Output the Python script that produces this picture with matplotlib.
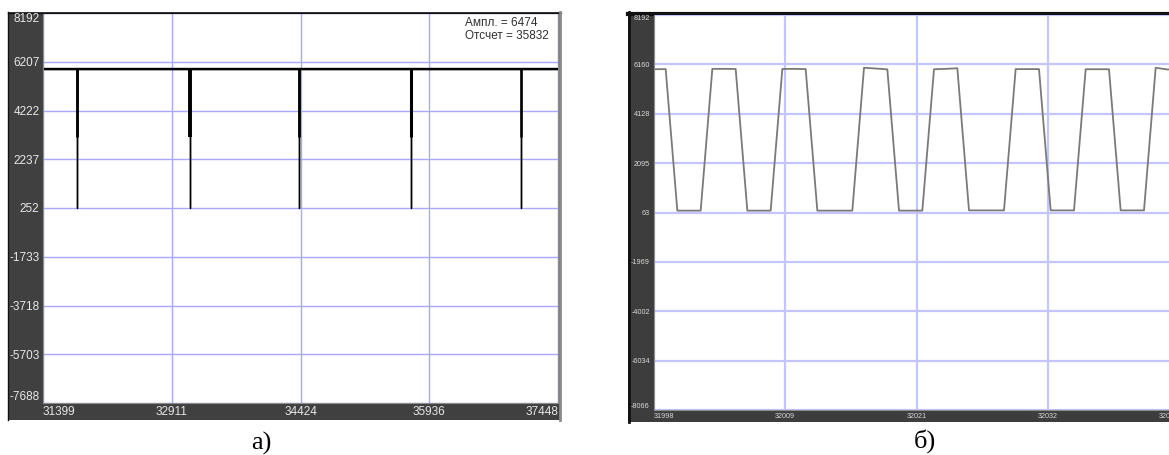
import numpy as np
import matplotlib.pyplot as plt
from matplotlib import font_manager
from matplotlib.patches import Rectangle
from matplotlib.lines import Line2D

# ---- data ----
# a) long record: flat level with short dips
left_xlim = (31399, 37448)
left_ylim = (-7688, 8192)
left_xticks = [31399, 32911, 34424, 35936, 37448]
left_yticks = [8192, 6207, 4222, 2237, 252, -1733, -3718, -5703, -7688]
left_level = 5922
dip_pos = [31802, 33120, 34407, 35723, 37016]
dip_upper = [3150, 3130, 3160, 3150, 3150]
dip_lower = [252, 240, 252, 252, 252]
ampl_text = "Ампл. = 6474"
count_text = "Отсчет = 35832"

# б) zoomed record, one value per sample
right_ylim = (-8066, 8192)
right_yticks = [8192, 6160, 4128, 2095, 63, -1969, -4002, -6034, -8066]
right_xlabels = ["31998", "32009", "32021", "32032", "32043"]
samples = list(range(31998, 32044))
values = [5960, 5965, 140, 140, 140, 5975, 5975, 5970, 140, 140, 140,
          5970, 5975, 5965, 140, 140, 140, 140, 6020, 5990, 5955, 140,
          140, 140, 5960, 5975, 6000, 150, 150, 150, 150, 5965, 5965,
          5965, 150, 150, 150, 5960, 5960, 5960, 150, 150, 150, 6020,
          5950, 5950]

W, H = 1169, 455
names = {f.name for f in font_manager.fontManager.ttflist}
narrow = "Liberation Sans Narrow" if "Liberation Sans Narrow" in names else "Liberation Sans"
small_size = 6 if narrow == "Liberation Sans Narrow" else 5.2
plt.rcParams['font.family'] = ['Liberation Sans', 'DejaVu Sans']

fig = plt.figure(figsize=(W / 100, H / 100), dpi=100)


def box(x0, y0, x1, y1):
    # pixel box (top-left origin) -> figure fraction rect
    return [x0 / W, 1 - y1 / H, (x1 - x0) / W, (y1 - y0) / H]


def frame(x0, y0, x1, y1, color):
    fig.add_artist(Rectangle((x0 / W, 1 - y1 / H), (x1 - x0) / W, (y1 - y0) / H,
                             transform=fig.transFigure, facecolor=color,
                             edgecolor='none', zorder=-1))


def fline(xs, ys, color, lw):
    fig.add_artist(Line2D([x / W for x in xs], [1 - y / H for y in ys],
                          transform=fig.transFigure, color=color, lw=lw, zorder=-0.5))


# dark frames around both plots
frame(8, 12, 561, 420, '#404040')
fline([8, 8], [12, 420], '#111111', 1)
fline([8, 561], [12.5, 12.5], '#111111', 1)
fline([560, 560], [12, 420], '#8a8a8a', 2)

frame(628, 12, 1169, 422, '#3d3d3d')
fline([629, 629], [12, 422], '#111111', 2)
fline([628, 1169], [13.5, 13.5], '#111111', 3)

# ---- a) ----
ax1 = fig.add_axes(box(43, 13, 558, 403))
ax1.set_xlim(left_xlim)
ax1.set_ylim(left_ylim)
ax1.set_xticks(left_xticks)
ax1.set_yticks(left_yticks)
ax1.set_xticklabels([str(v) for v in left_xticks])
ax1.set_yticklabels([str(v) for v in left_yticks])
ax1.grid(True, color='#a8a8ff', lw=1)
ax1.set_axisbelow(True)
ax1.tick_params(length=0, labelsize=8.5, labelcolor='#e8e8e8')
ax1.tick_params(axis='y', pad=2.5)
ax1.tick_params(axis='x', pad=2.5)
for s in ['left', 'bottom', 'right']:
    ax1.spines[s].set_color('#8c8c8c')
ax1.spines['top'].set_color('#111111')

# signal: level with deep narrow dips
sx = [left_xlim[0]]
sy = [left_level]
for d, lo in zip(dip_pos, dip_lower):
    sx += [d, d, d]
    sy += [left_level, lo, left_level]
sx.append(left_xlim[1])
sy.append(left_level)
ax1.plot(sx, sy, color='black', lw=1)
ax1.hlines(left_level, left_xlim[0], left_xlim[1], color='black', lw=1.7)
ax1.vlines(dip_pos, dip_upper, left_level, color='black', lw=[2.0, 2.8, 2.0, 2.2, 1.8])

ax1.text(465 / W, 1 - 17 / H, ampl_text + "\n" + count_text, transform=fig.transFigure,
         fontsize=8.5, color='#303030', ha='left', va='top', linespacing=1.15)

# ---- б) ----
ax2 = fig.add_axes(box(654, 15, 1179, 410))
ax2.set_xlim(samples[0], samples[-1])
ax2.set_ylim(right_ylim)
ax2.set_xticks(np.linspace(samples[0], samples[-1], len(right_xlabels)))
ax2.set_xticklabels(right_xlabels)
ax2.set_yticks(right_yticks)
ax2.set_yticklabels([str(v) for v in right_yticks])
ax2.grid(True, color='#c4c4ff', lw=1.6)
ax2.set_axisbelow(True)
ax2.tick_params(length=0, labelsize=small_size, labelcolor='#d8d8d8')
ax2.tick_params(axis='y', pad=3)
ax2.tick_params(axis='x', pad=2)
for lab in ax2.get_xticklabels() + ax2.get_yticklabels():
    lab.set_family([narrow, 'DejaVu Sans'])
for s in ['left', 'bottom', 'right']:
    ax2.spines[s].set_color('#8c8c8c')
ax2.spines['top'].set_visible(False)
ax2.plot(samples, values, color='#7a7a7a', lw=1.3)

# edge labels kept inside the frame
for ax in (ax1, ax2):
    xl = ax.get_xticklabels()
    xl[0].set_ha('left')
    xl[-1].set_ha('right')
    yl = ax.get_yticklabels()
    yl[0].set_va('top')
    yl[-1].set_va('bottom')

# captions
fig.text(261 / W, 1 - 443 / H, "а)", fontsize=19, family='Liberation Serif',
         ha='center', va='center')
fig.text(925 / W, 1 - 441 / H, "б)", fontsize=19, family='Liberation Serif',
         ha='center', va='center')

plt.savefig("out.png", dpi=100)
